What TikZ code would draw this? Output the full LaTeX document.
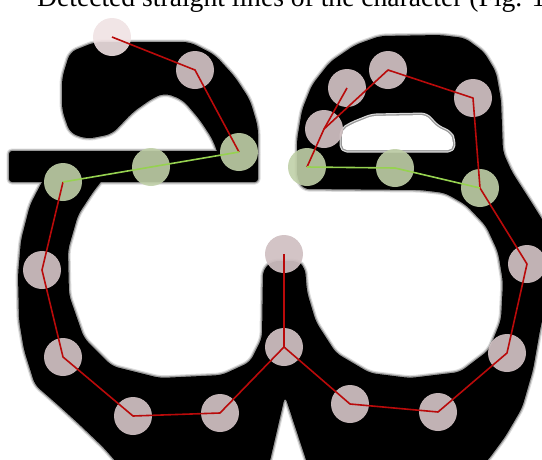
\documentclass[tikz,border=0pt]{standalone}
\usepackage{fontspec}
\setmainfont{Liberation Serif}
\definecolor{vtxpink}{RGB}{208,192,194}
\definecolor{vtxpinklight}{RGB}{240,226,227}
\definecolor{vtxgreen}{RGB}{192,208,168}
\definecolor{segred}{RGB}{185,10,10}
\definecolor{seggreen}{RGB}{150,210,80}
\tikzset{
  vtx/.style={circle, minimum size=38pt, inner sep=0pt, fill=vtxpink, fill opacity=0.93},
  vtxfaint/.style={vtx, fill=vtxpinklight, fill opacity=0.9},
  vtxline/.style={circle, minimum size=38pt, inner sep=0pt, fill=vtxgreen, fill opacity=0.9},
  curved/.style={draw=segred, line width=1.6pt, line join=round},
  straight/.style={draw=seggreen, line width=1.6pt, line join=round},
  haloouter/.style={draw=black!14, line width=5pt, line join=round},
  halo/.style={draw=black!40, line width=2.6pt, line join=round},
  ink/.style={fill=black}
}
% outlines of the glyph strokes (pixel grid, y pointing down)
\def\archpath{[rounded corners=7pt] (70,52) -- (95,42) -- (190,42) -- (215,55) -- (235,77) -- (250,100) -- (258,127) -- (258,160)
  -- (220,160) -- (213,140) -- (200,120) -- (183,100) -- (165,93) -- (153,98) -- (133,112) -- (112,134) -- (87,139) -- (70,133) -- (62,110) -- (62,78) -- cycle}
\def\barpath{[rounded corners=3pt] (9,151) rectangle (258,182)}
\def\bodypath{[rounded corners=6pt] (44,178) -- (30,205) -- (21,240) -- (18,275) -- (19,320) -- (24,350) -- (35,385) -- (58,405) -- (80,425) -- (104,448) -- (130,478)
  -- (266,478) -- (285,396) -- (312,478)
  -- (470,478) -- (488,460) -- (505,437) -- (522,408) -- (533,370) -- (540,330) -- (548,295) -- (550,232)
  -- (530,200) -- (512,172) -- (503,152) -- (501,100) -- (496,72) -- (484,52) -- (465,38) -- (440,35) -- (380,36) -- (355,45) -- (330,62) -- (312,85) -- (302,110) -- (297,140) -- (297,178) -- (303,189)
  -- (420,190) -- (445,193) -- (466,205) -- (486,226) -- (498,252) -- (503,282) -- (501,320) -- (489,350) -- (460,372) -- (410,378) -- (370,373) -- (336,353) -- (316,322) -- (307,292) -- (305,268) -- (298,261)
  -- (272,261) -- (263,270) -- (262,338) -- (250,362) -- (222,375) -- (160,378) -- (112,366) -- (84,338) -- (69,295) -- (68,250) -- (78,215) -- (93,192) -- (104,178) -- cycle}
\def\holepath{[rounded corners=5pt] (342,150) -- (342,130) -- (352,124) -- (372,116) -- (426,115) -- (437,127) -- (450,133) -- (453,140) -- (453,150) -- cycle}
\begin{document}
\begin{tikzpicture}[x=1pt, y=-1pt]
  \useasboundingbox (0,0) rectangle (542,459);
  \clip (0,0) rectangle (542,459);

  % caption line, cut by the top edge
  \node[anchor=base west, inner sep=0pt, font=\fontsize{27.6}{32}\selectfont] (caption) at (37,6) {Detected straight lines of the character (Fig. 11};

  % the glyph: soft edge first, then solid ink, then the inner counter
  \path[haloouter] \archpath;
  \path[haloouter] \barpath;
  \path[haloouter] \bodypath;
  \path[halo] \archpath;
  \path[halo] \barpath;
  \path[halo] \bodypath;
  \path[ink] \archpath;
  \path[ink] \barpath;
  \path[ink] \bodypath;
  \path[haloouter] \holepath;
  \path[halo] \holepath;
  \path[fill=white] \holepath;

  % detected vertices
  \node[vtxfaint] (p1) at (112,37) {};
  \node[vtx] (p2) at (195,70) {};
  \node[vtxline] (g1) at (239,152) {};
  \node[vtxline] (g2) at (151,167) {};
  \node[vtxline] (g3) at (63,182) {};
  \node[vtx] (p6) at (42,270) {};
  \node[vtx] (p7) at (63,357) {};
  \node[vtx] (p8) at (133,416) {};
  \node[vtx] (p9) at (220,413) {};
  \node[vtx] (p10) at (284,347) {};
  \node[vtx] (p11) at (284,254) {};
  \node[vtx] (p12) at (350,404) {};
  \node[vtx] (p13) at (438,412) {};
  \node[vtx] (p14) at (507,353) {};
  \node[vtx] (p15) at (527,264) {};
  \node[vtxline] (g4) at (480,188) {};
  \node[vtxline] (g5) at (395,168) {};
  \node[vtxline] (g6) at (307,167) {};
  \node[vtx] (pa) at (324,129) {};
  \node[vtx] (pb) at (347,88) {};
  \node[vtx] (pc) at (388,70) {};
  \node[vtx] (pd) at (473,98) {};

  % curved segments
  \draw[curved] (p1.center) -- (p2.center) -- (g1.center);
  \draw[curved] (g3.center) -- (p6.center) -- (p7.center) -- (p8.center) -- (p9.center) -- (p10.center) -- (p11.center);
  \draw[curved] (p10.center) -- (p12.center) -- (p13.center) -- (p14.center) -- (p15.center) -- (g4.center) -- (pd.center) -- (pc.center) -- (pa.center);
  \draw[curved] (g6.center) -- (pa.center) -- (pb.center);

  % straight segments
  \draw[straight] (g3.center) -- (g2.center) -- (g1.center);
  \draw[straight] (g6.center) -- (g5.center) -- (g4.center);
\end{tikzpicture}
\end{document}
